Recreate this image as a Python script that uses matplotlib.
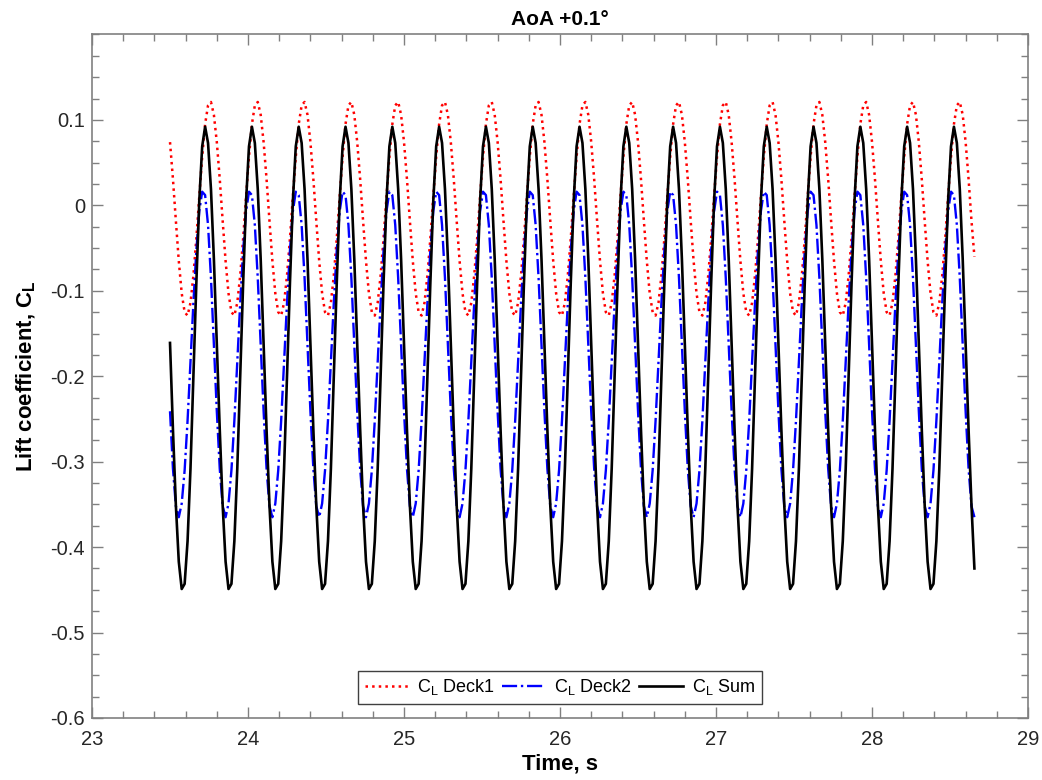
import numpy as np
import matplotlib
matplotlib.use("Agg")
from matplotlib import pyplot as plt
from matplotlib.ticker import MultipleLocator, FormatStrFormatter

t_start = 23.5     # s, first sample
dt = 0.01875       # s, sample spacing

cl_deck1 = [
    0.074, 0.031, -0.018, -0.065, -0.103, -0.125, -0.129, -0.114, -0.082, -0.039, 0.010, 0.057, 0.095, 0.117, 0.121, 0.106,
    0.074, 0.031, -0.018, -0.065, -0.103, -0.125, -0.129, -0.114, -0.082, -0.039, 0.010, 0.057, 0.095, 0.117, 0.121, 0.106,
    0.074, 0.031, -0.018, -0.065, -0.103, -0.125, -0.129, -0.114, -0.082, -0.039, 0.010, 0.057, 0.095, 0.117, 0.121, 0.106,
    0.074, 0.031, -0.018, -0.065, -0.103, -0.125, -0.129, -0.114, -0.082, -0.039, 0.010, 0.057, 0.095, 0.117, 0.121, 0.106,
    0.074, 0.031, -0.018, -0.065, -0.103, -0.125, -0.129, -0.114, -0.082, -0.039, 0.010, 0.057, 0.095, 0.117, 0.121, 0.106,
    0.074, 0.031, -0.018, -0.065, -0.103, -0.125, -0.129, -0.114, -0.082, -0.039, 0.010, 0.057, 0.095, 0.117, 0.121, 0.106,
    0.074, 0.031, -0.018, -0.065, -0.103, -0.125, -0.129, -0.114, -0.082, -0.039, 0.010, 0.057, 0.095, 0.117, 0.121, 0.106,
    0.074, 0.031, -0.018, -0.065, -0.103, -0.125, -0.129, -0.114, -0.082, -0.039, 0.010, 0.057, 0.095, 0.117, 0.121, 0.106,
    0.074, 0.031, -0.018, -0.065, -0.103, -0.125, -0.129, -0.114, -0.082, -0.039, 0.010, 0.057, 0.095, 0.117, 0.121, 0.106,
    0.074, 0.031, -0.018, -0.065, -0.103, -0.125, -0.129, -0.114, -0.082, -0.039, 0.010, 0.057, 0.095, 0.117, 0.121, 0.106,
    0.074, 0.031, -0.018, -0.065, -0.103, -0.125, -0.129, -0.114, -0.082, -0.039, 0.010, 0.057, 0.095, 0.117, 0.121, 0.106,
    0.074, 0.031, -0.018, -0.065, -0.103, -0.125, -0.129, -0.114, -0.082, -0.039, 0.010, 0.057, 0.095, 0.117, 0.121, 0.106,
    0.074, 0.031, -0.018, -0.065, -0.103, -0.125, -0.129, -0.114, -0.082, -0.039, 0.010, 0.057, 0.095, 0.117, 0.121, 0.106,
    0.074, 0.031, -0.018, -0.065, -0.103, -0.125, -0.129, -0.114, -0.082, -0.039, 0.010, 0.057, 0.095, 0.117, 0.121, 0.106,
    0.074, 0.031, -0.018, -0.065, -0.103, -0.125, -0.129, -0.114, -0.082, -0.039, 0.010, 0.057, 0.095, 0.117, 0.121, 0.106,
    0.074, 0.031, -0.018, -0.065, -0.103, -0.125, -0.129, -0.114, -0.082, -0.039, 0.010, 0.057, 0.095, 0.117, 0.121, 0.106,
    0.074, 0.031, -0.018, -0.065, -0.103, -0.125, -0.129, -0.114, -0.082, -0.039, 0.010, 0.057, 0.095, 0.117, 0.121, 0.106,
    0.074, 0.031, -0.018, -0.060,
]

cl_deck2 = [
    -0.241, -0.308, -0.352, -0.365, -0.349, -0.310, -0.252, -0.184, -0.114, -0.053, -0.007, 0.016, 0.012, -0.023, -0.085, -0.162,
    -0.241, -0.308, -0.352, -0.365, -0.349, -0.310, -0.252, -0.184, -0.114, -0.053, -0.007, 0.016, 0.012, -0.023, -0.085, -0.162,
    -0.241, -0.308, -0.352, -0.365, -0.349, -0.310, -0.252, -0.184, -0.114, -0.053, -0.007, 0.016, 0.012, -0.023, -0.085, -0.162,
    -0.241, -0.308, -0.352, -0.365, -0.349, -0.310, -0.252, -0.184, -0.114, -0.053, -0.007, 0.016, 0.012, -0.023, -0.085, -0.162,
    -0.241, -0.308, -0.352, -0.365, -0.349, -0.310, -0.252, -0.184, -0.114, -0.053, -0.007, 0.016, 0.012, -0.023, -0.085, -0.162,
    -0.241, -0.308, -0.352, -0.365, -0.349, -0.310, -0.252, -0.184, -0.114, -0.053, -0.007, 0.016, 0.012, -0.023, -0.085, -0.162,
    -0.241, -0.308, -0.352, -0.365, -0.349, -0.310, -0.252, -0.184, -0.114, -0.053, -0.007, 0.016, 0.012, -0.023, -0.085, -0.162,
    -0.241, -0.308, -0.352, -0.365, -0.349, -0.310, -0.252, -0.184, -0.114, -0.053, -0.007, 0.016, 0.012, -0.023, -0.085, -0.162,
    -0.241, -0.308, -0.352, -0.365, -0.349, -0.310, -0.252, -0.184, -0.114, -0.053, -0.007, 0.016, 0.012, -0.023, -0.085, -0.162,
    -0.241, -0.308, -0.352, -0.365, -0.349, -0.310, -0.252, -0.184, -0.114, -0.053, -0.007, 0.016, 0.012, -0.023, -0.085, -0.162,
    -0.241, -0.308, -0.352, -0.365, -0.349, -0.310, -0.252, -0.184, -0.114, -0.053, -0.007, 0.016, 0.012, -0.023, -0.085, -0.162,
    -0.241, -0.308, -0.352, -0.365, -0.349, -0.310, -0.252, -0.184, -0.114, -0.053, -0.007, 0.016, 0.012, -0.023, -0.085, -0.162,
    -0.241, -0.308, -0.352, -0.365, -0.349, -0.310, -0.252, -0.184, -0.114, -0.053, -0.007, 0.016, 0.012, -0.023, -0.085, -0.162,
    -0.241, -0.308, -0.352, -0.365, -0.349, -0.310, -0.252, -0.184, -0.114, -0.053, -0.007, 0.016, 0.012, -0.023, -0.085, -0.162,
    -0.241, -0.308, -0.352, -0.365, -0.349, -0.310, -0.252, -0.184, -0.114, -0.053, -0.007, 0.016, 0.012, -0.023, -0.085, -0.162,
    -0.241, -0.308, -0.352, -0.365, -0.349, -0.310, -0.252, -0.184, -0.114, -0.053, -0.007, 0.016, 0.012, -0.023, -0.085, -0.162,
    -0.241, -0.308, -0.352, -0.365, -0.349, -0.310, -0.252, -0.184, -0.114, -0.053, -0.007, 0.016, 0.012, -0.023, -0.085, -0.162,
    -0.241, -0.308, -0.352, -0.365,
]

cl_sum = [
    -0.161, -0.262, -0.351, -0.417, -0.449, -0.443, -0.393, -0.308, -0.201, -0.091, 0.005, 0.069, 0.092, 0.073, 0.019, -0.063,
    -0.161, -0.262, -0.351, -0.417, -0.449, -0.443, -0.393, -0.308, -0.201, -0.091, 0.005, 0.069, 0.092, 0.073, 0.019, -0.063,
    -0.161, -0.262, -0.351, -0.417, -0.449, -0.443, -0.393, -0.308, -0.201, -0.091, 0.005, 0.069, 0.092, 0.073, 0.019, -0.063,
    -0.161, -0.262, -0.351, -0.417, -0.449, -0.443, -0.393, -0.308, -0.201, -0.091, 0.005, 0.069, 0.092, 0.073, 0.019, -0.063,
    -0.161, -0.262, -0.351, -0.417, -0.449, -0.443, -0.393, -0.308, -0.201, -0.091, 0.005, 0.069, 0.092, 0.073, 0.019, -0.063,
    -0.161, -0.262, -0.351, -0.417, -0.449, -0.443, -0.393, -0.308, -0.201, -0.091, 0.005, 0.069, 0.092, 0.073, 0.019, -0.063,
    -0.161, -0.262, -0.351, -0.417, -0.449, -0.443, -0.393, -0.308, -0.201, -0.091, 0.005, 0.069, 0.092, 0.073, 0.019, -0.063,
    -0.161, -0.262, -0.351, -0.417, -0.449, -0.443, -0.393, -0.308, -0.201, -0.091, 0.005, 0.069, 0.092, 0.073, 0.019, -0.063,
    -0.161, -0.262, -0.351, -0.417, -0.449, -0.443, -0.393, -0.308, -0.201, -0.091, 0.005, 0.069, 0.092, 0.073, 0.019, -0.063,
    -0.161, -0.262, -0.351, -0.417, -0.449, -0.443, -0.393, -0.308, -0.201, -0.091, 0.005, 0.069, 0.092, 0.073, 0.019, -0.063,
    -0.161, -0.262, -0.351, -0.417, -0.449, -0.443, -0.393, -0.308, -0.201, -0.091, 0.005, 0.069, 0.092, 0.073, 0.019, -0.063,
    -0.161, -0.262, -0.351, -0.417, -0.449, -0.443, -0.393, -0.308, -0.201, -0.091, 0.005, 0.069, 0.092, 0.073, 0.019, -0.063,
    -0.161, -0.262, -0.351, -0.417, -0.449, -0.443, -0.393, -0.308, -0.201, -0.091, 0.005, 0.069, 0.092, 0.073, 0.019, -0.063,
    -0.161, -0.262, -0.351, -0.417, -0.449, -0.443, -0.393, -0.308, -0.201, -0.091, 0.005, 0.069, 0.092, 0.073, 0.019, -0.063,
    -0.161, -0.262, -0.351, -0.417, -0.449, -0.443, -0.393, -0.308, -0.201, -0.091, 0.005, 0.069, 0.092, 0.073, 0.019, -0.063,
    -0.161, -0.262, -0.351, -0.417, -0.449, -0.443, -0.393, -0.308, -0.201, -0.091, 0.005, 0.069, 0.092, 0.073, 0.019, -0.063,
    -0.161, -0.262, -0.351, -0.417, -0.449, -0.443, -0.393, -0.308, -0.201, -0.091, 0.005, 0.069, 0.092, 0.073, 0.019, -0.063,
    -0.161, -0.262, -0.351, -0.425,
]

series_labels = [r"C$_\mathrm{L}$ Deck1", r"C$_\mathrm{L}$ Deck2", r"C$_\mathrm{L}$ Sum"]
y_ticks = [-0.6, -0.5, -0.4, -0.3, -0.2, -0.1, 0, 0.1]

plt.rcParams["font.family"] = ["Liberation Sans", "DejaVu Sans"]
plt.rcParams["mathtext.fontset"] = "custom"
plt.rcParams["mathtext.rm"] = "Liberation Sans"
plt.rcParams["mathtext.bf"] = "Liberation Sans:bold"
plt.rcParams["axes.unicode_minus"] = False

time = t_start + dt * np.arange(len(cl_sum))

fig = plt.figure(figsize=(10.42, 7.8), dpi=100)
ax = fig.add_axes([0.0883, 0.0795, 0.8983, 0.8763])

ax.plot(time, cl_deck1, color="red", linestyle=":", linewidth=1.8, label=series_labels[0])
ax.plot(time, cl_deck2, color="blue", linestyle="-.", linewidth=1.7, label=series_labels[1])
ax.plot(time, cl_sum, color="black", linestyle="-", linewidth=1.9, label=series_labels[2])

ax.set_xlim(23, 29)
ax.set_ylim(-0.6, 0.2)
ax.set_yticks(y_ticks)
ax.xaxis.set_minor_locator(MultipleLocator(0.2))
ax.yaxis.set_minor_locator(MultipleLocator(0.025))
ax.yaxis.set_major_formatter(FormatStrFormatter("%g"))
ax.tick_params(which="both", direction="in", top=True, right=True, color="#808080",
               labelcolor="#262626", labelsize=14.5)
ax.tick_params(which="major", length=8, width=1)
ax.tick_params(which="minor", length=5, width=1)
ax.tick_params(axis="x", which="major", pad=9)
ax.tick_params(axis="y", which="major", pad=5)
for sp in ax.spines.values():
    sp.set_color("#808080")
    sp.set_linewidth(1.2)

ax.set_title("AoA +0.1°", fontsize=15, fontweight="bold", pad=7)
ax.set_xlabel("Time, s", fontsize=16, fontweight="bold", labelpad=3)
ax.set_ylabel(r"Lift coefficient, C$_\mathbf{L}$", fontsize=16, fontweight="bold", labelpad=9)

leg = ax.legend(loc="lower center", bbox_to_anchor=(0.5, 0.021), ncol=3, fontsize=13,
                fancybox=False, edgecolor="#404040", framealpha=1, borderaxespad=0,
                handlelength=2.4, handletextpad=0.5, columnspacing=0.4, borderpad=0.35)
leg.get_frame().set_linewidth(1.0)

plt.savefig("out.png", dpi=100)
